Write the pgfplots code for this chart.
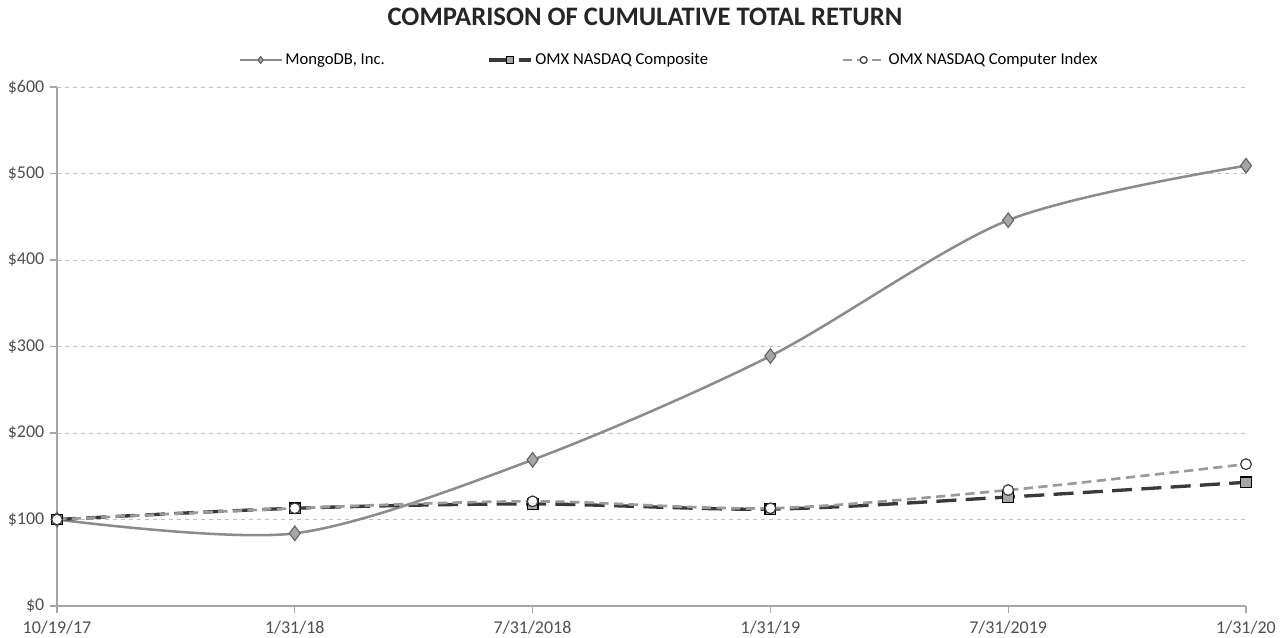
\documentclass[border=0pt]{standalone}
\usepackage{fontspec}
\setmainfont{Carlito}
\usepackage{pgfplots}
\pgfplotsset{compat=1.18}

\definecolor{mdbline}{HTML}{8C8C8C}
\definecolor{mdbfill}{HTML}{A6A6A6}
\definecolor{compline}{HTML}{3A3A3A}
\definecolor{idxline}{HTML}{9A9A9A}
\definecolor{gridc}{HTML}{BFBFBF}
\definecolor{axisc}{HTML}{A6A6A6}
\definecolor{labc}{HTML}{505050}

\pgfplotstableread{
x mongo comp idx
0 100 100 100
1 84  113 113
2 169 118 121
3 289 112 113
4 446 126 134
5 509 143 164
}\returns

\begin{document}
\begin{tikzpicture}
\begin{axis}[
    scale only axis,
    width=891.75pt,
    height=389.25pt,
    xmin=0, xmax=5,
    ymin=0, ymax=600,
    xtick={0,...,5},
    xticklabels={10/19/17, 1/31/18, 7/31/2018, 1/31/19, 7/31/2019, 1/31/20},
    ytick={0,100,...,600},
    yticklabels={\$0,\$100,\$200,\$300,\$400,\$500,\$600},
    axis x line*=bottom,
    axis y line*=left,
    axis line style={draw=axisc, line width=1.5pt, -},
    ymajorgrids,
    grid style={gridc, dashed, line width=0.6pt},
    major tick length=5pt,
    tick align=outside,
    tick style={draw=axisc, line width=0.8pt},
    tick label style={font=\fontsize{13.5pt}{15pt}\selectfont, text=labc},
    xticklabel style={yshift=-3pt},
    yticklabel style={xshift=-1pt},
    /pgf/number format/assume math mode=true,
    clip=false,
    legend columns=3,
    legend cell align=left,
    legend style={
        at={(rel axis cs:0.515,1.052)}, anchor=center,
        draw=none, fill=none,
        font=\fontsize{12.5pt}{14pt}\selectfont,
        /tikz/column 2/.style={column sep=75pt},
        /tikz/column 4/.style={column sep=98pt},
    },
    legend image code/.code={
        \draw[mark repeat=2, mark phase=2, mark size=2.6pt]
            plot coordinates {(0cm,0cm) (0.55cm,0cm) (1.1cm,0cm)};
    },
]
\addplot[mdbline, line width=1.9pt, smooth, mark=diamond*, mark size=5.5pt,
    mark options={fill=mdbfill, draw=compline!80, line width=0.8pt, solid}]
    table[x=x, y=mongo] {\returns};
\addlegendentry{MongoDB, Inc.}
\addplot[compline, line width=2.5pt, dash pattern=on 15pt off 7pt, smooth, mark=square*, mark size=4pt,
    mark options={fill=mdbfill, draw=black, line width=0.9pt, solid}]
    table[x=x, y=comp] {\returns};
\addlegendentry{OMX NASDAQ Composite}
\addplot[idxline, line width=2pt, dash pattern=on 7pt off 4pt, smooth, mark=*, mark size=4pt,
    mark options={fill=white, draw=compline, line width=0.9pt, solid}]
    table[x=x, y=idx] {\returns};
\addlegendentry{OMX NASDAQ Computer Index}
\end{axis}
\node[font=\bfseries\fontsize{20pt}{24pt}\selectfont, text=black!85] at (441pt,441.75pt) {COMPARISON OF CUMULATIVE TOTAL RETURN};
\pgfresetboundingbox
\path[use as bounding box] (-42.75pt,-24pt) rectangle (921.75pt,454.5pt);
\end{tikzpicture}
\end{document}
